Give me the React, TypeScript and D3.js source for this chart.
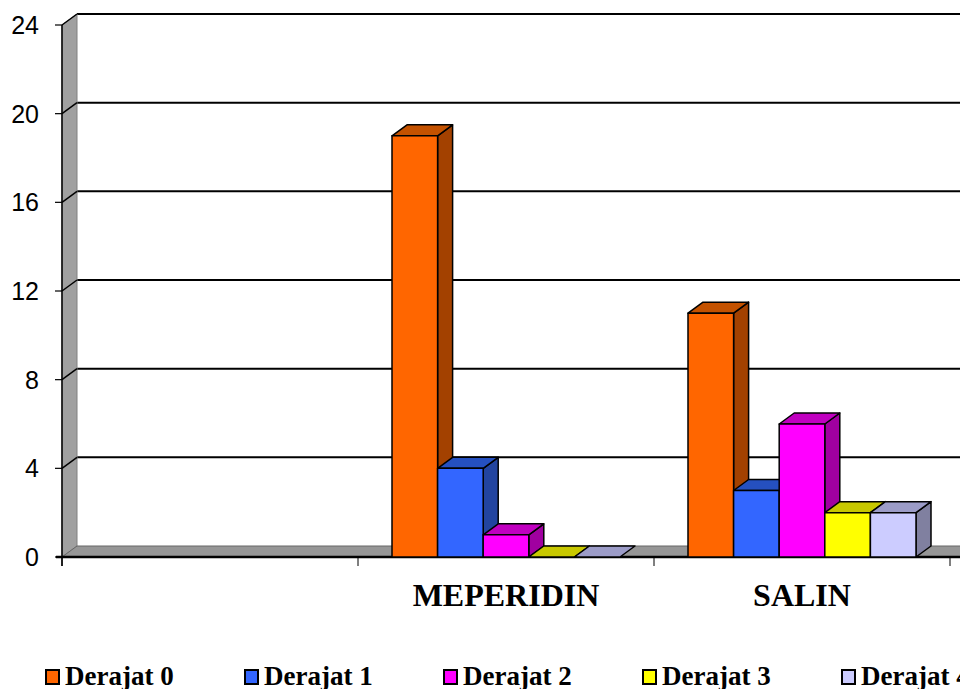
import React, { useEffect, useRef } from 'react';
import * as d3 from 'd3';

const categories = ['', 'MEPERIDIN', 'SALIN', ''];
const seriesNames = ['Derajat 0', 'Derajat 1', 'Derajat 2', 'Derajat 3', 'Derajat 4'];
const derajat0 = [null, 19, 11, null];
const derajat1 = [null, 4, 3, null];
const derajat2 = [null, 1, 6, null];
const derajat3 = [null, 0, 2, null];
const derajat4 = [null, 0, 2, null];
const yTicks = [0, 4, 8, 12, 16, 20, 24];

const seriesValues = [derajat0, derajat1, derajat2, derajat3, derajat4];
// front, top, side
const palette = [
  ['#FF6600', '#C45200', '#A34100'],
  ['#3366FF', '#2550C0', '#2244A0'],
  ['#FF00FF', '#C000C0', '#A000A0'],
  ['#FFFF00', '#C8C800', '#A0A000'],
  ['#CCCCFF', '#9C9CC8', '#8080A0'],
];

export default function App() {
  const svgRef = useRef<SVGSVGElement | null>(null);

  useEffect(() => {
    document.body.style.margin = '0';
    if (!svgRef.current) return;
    const svg = d3.select(svgRef.current);
    svg.selectAll('*').remove();

    const W = 960;
    const left = 62;
    const catW = 296;
    const DX = 15;
    const DY = -11;

    const y = d3.scaleLinear().domain([0, 24]).range([557, 25]);
    const x = d3.scaleBand<number>()
      .domain(categories.map((_, i) => i))
      .range([left, left + catW * categories.length]);
    const xs = d3.scaleBand<number>()
      .domain(seriesNames.map((_, i) => i))
      .range([34, catW - 34]);

    const y0 = y(0);
    const yTop = y(24);
    const xEnd = left + catW * categories.length;

    // back wall gridlines
    svg.append('g')
      .selectAll('line')
      .data(yTicks.filter(d => d > 0))
      .join('line')
      .attr('x1', left + DX).attr('x2', W)
      .attr('y1', d => y(d) + DY).attr('y2', d => y(d) + DY)
      .attr('stroke', '#000').attr('stroke-width', 2);

    // left side wall
    svg.append('polygon')
      .attr('points', [[left, y0], [left, yTop], [left + DX, yTop + DY], [left + DX, y0 + DY]].map(p => p.join(',')).join(' '))
      .attr('fill', '#A0A0A0').attr('stroke', '#808080').attr('stroke-width', 1);
    svg.append('g')
      .selectAll('line')
      .data(yTicks.filter(d => d > 0))
      .join('line')
      .attr('x1', left).attr('x2', left + DX)
      .attr('y1', d => y(d)).attr('y2', d => y(d) + DY)
      .attr('stroke', '#000').attr('stroke-width', 1.5);

    // floor
    svg.append('polygon')
      .attr('points', [[left, y0], [left + DX, y0 + DY], [xEnd + DX, y0 + DY], [xEnd, y0]].map(p => p.join(',')).join(' '))
      .attr('fill', '#969696').attr('stroke', '#666').attr('stroke-width', 1);

    // front axis lines
    svg.append('line')
      .attr('x1', left).attr('x2', left).attr('y1', yTop).attr('y2', y0 + 9)
      .attr('stroke', '#000').attr('stroke-width', 1.5);
    svg.append('line')
      .attr('x1', left - 6).attr('x2', xEnd).attr('y1', y0).attr('y2', y0)
      .attr('stroke', '#000').attr('stroke-width', 2.5);

    // y ticks + labels
    const yg = svg.append('g');
    yg.selectAll('line')
      .data(yTicks)
      .join('line')
      .attr('x1', left - 7).attr('x2', left)
      .attr('y1', d => y(d)).attr('y2', d => y(d))
      .attr('stroke', '#000').attr('stroke-width', 1.2);
    yg.selectAll('text')
      .data(yTicks)
      .join('text')
      .attr('x', 39).attr('y', d => y(d) + 9)
      .attr('text-anchor', 'end')
      .attr('font-family', 'Liberation Sans, Arial, sans-serif')
      .attr('font-size', 25)
      .attr('fill', '#000')
      .text(d => d);

    // x ticks
    svg.append('g')
      .selectAll('line')
      .data(d3.range(categories.length + 1))
      .join('line')
      .attr('x1', d => left + d * catW).attr('x2', d => left + d * catW)
      .attr('y1', y0).attr('y2', y0 + 9)
      .attr('stroke', '#000').attr('stroke-width', 1);

    // bars
    const barG = svg.append('g').attr('stroke', '#000').attr('stroke-width', 1.5).attr('stroke-linejoin', 'round');
    categories.forEach((_, ci) => {
      seriesValues.forEach((vals, si) => {
        const v = vals[ci];
        if (v === null || v === undefined) return;
        const bx = (x(ci) as number) + (xs(si) as number);
        const bw = xs.bandwidth();
        const by = y(v);
        const [cFront, cTop, cSide] = palette[si];
        if (v > 0) {
          barG.append('polygon')
            .attr('points', [[bx + bw, y0], [bx + bw, by], [bx + bw + DX, by + DY], [bx + bw + DX, y0 + DY]].map(p => p.join(',')).join(' '))
            .attr('fill', cSide);
        }
        barG.append('polygon')
          .attr('points', [[bx, by], [bx + DX, by + DY], [bx + bw + DX, by + DY], [bx + bw, by]].map(p => p.join(',')).join(' '))
          .attr('fill', cTop);
        if (v > 0) {
          barG.append('rect')
            .attr('x', bx).attr('y', by).attr('width', bw).attr('height', y0 - by)
            .attr('fill', cFront);
        }
      });
    });

    // category labels
    svg.append('g')
      .selectAll('text')
      .data(categories.map((c, i) => ({ c, i })))
      .join('text')
      .attr('x', d => (x(d.i) as number) + catW / 2)
      .attr('y', 606)
      .attr('text-anchor', 'middle')
      .attr('font-family', 'Liberation Serif, Times New Roman, serif')
      .attr('font-weight', 'bold')
      .attr('font-size', 32)
      .attr('fill', '#000')
      .text(d => d.c);

    // legend
    const lg = svg.append('g')
      .selectAll('g')
      .data(seriesNames.map((n, i) => ({ n, i })))
      .join('g')
      .attr('transform', d => `translate(${45 + d.i * 199},0)`);
    lg.append('rect')
      .attr('x', 1).attr('y', 670).attr('width', 13).attr('height', 14)
      .attr('fill', d => palette[d.i][0])
      .attr('stroke', '#000').attr('stroke-width', 2);
    lg.append('text')
      .attr('x', 20).attr('y', 685)
      .attr('font-family', 'Liberation Serif, Times New Roman, serif')
      .attr('font-weight', 'bold')
      .attr('font-size', 27)
      .attr('fill', '#000')
      .text(d => d.n);
  }, []);

  return <svg ref={svgRef} width={960} height={689} style={{ display: 'block' }} />;
}
